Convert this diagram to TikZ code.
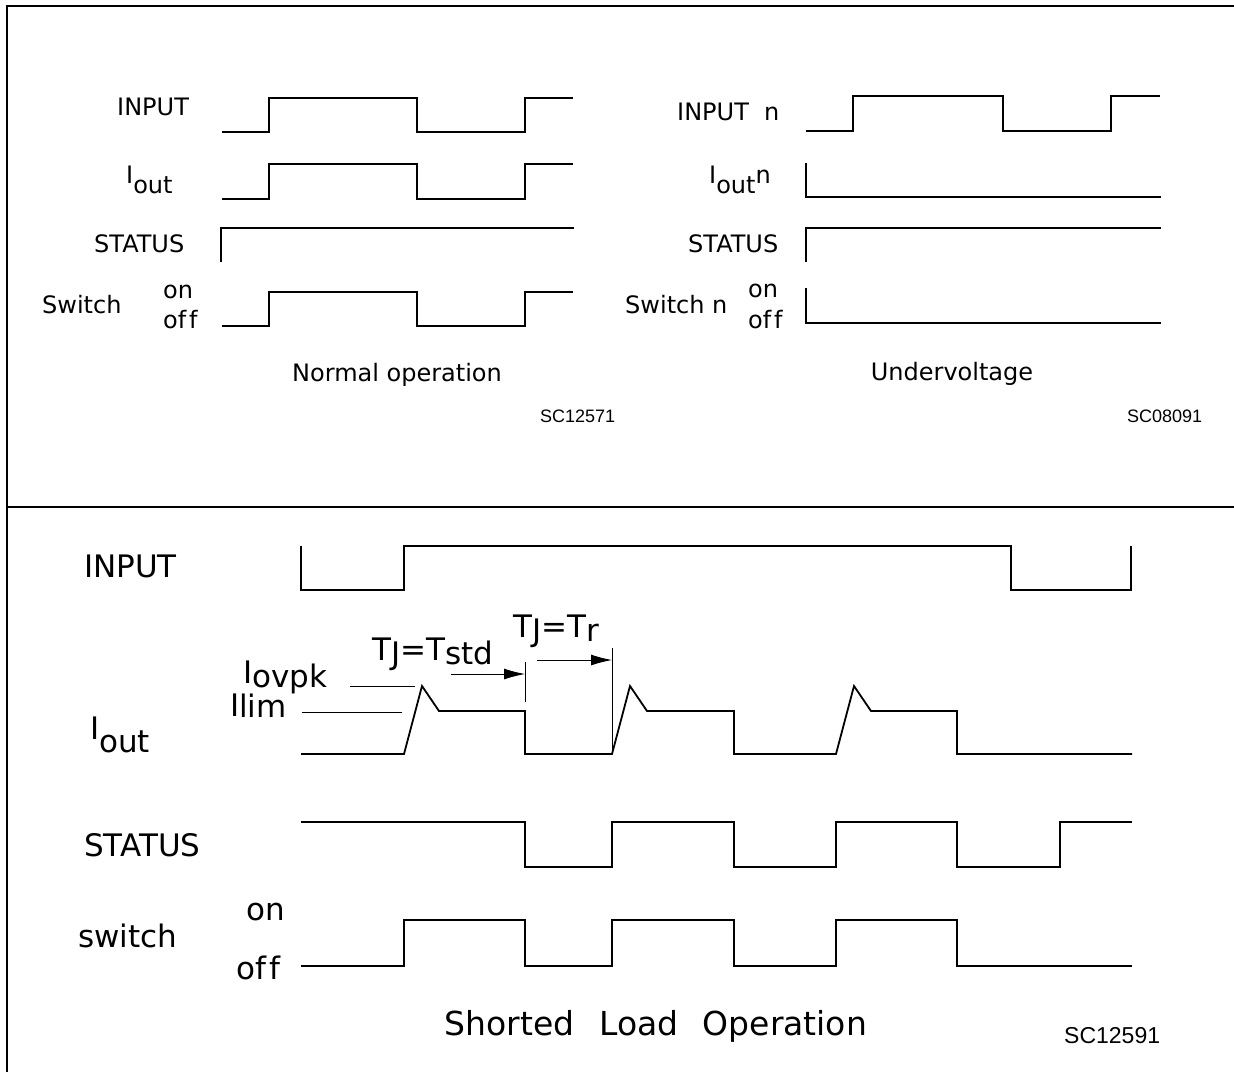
\documentclass[tikz,border=0pt]{standalone}
\usepackage{fontspec}
\setmainfont{DejaVu Sans}[Ligatures=NoCommon]
\newfontfamily\scfont{Liberation Sans}
\usetikzlibrary{arrows.meta, positioning}
\tikzstyle{wave} = [draw, line width=1.8pt, line join=miter]
\tikzstyle{guide} = [draw, line width=0.9pt]
\tikzstyle{frame} = [draw, line width=1.3pt]
\tikzstyle{lbl} = [inner sep=0pt, anchor=base west, font=\fontsize{24}{24}\selectfont]
\tikzstyle{lblb} = [lbl, font=\fontsize{31}{31}\selectfont]
\tikzstyle{code} = [inner sep=0pt, anchor=base west, font=\scfont\fontsize{18}{18}\selectfont]
\newcommand{\sublow}[2][0.42em]{\raisebox{-#1}{#2}}
\newcommand{\offtxt}{of\kern0.12em f}

\begin{document}
\begin{tikzpicture}[x=1pt,y=-1pt,>={Latex[length=21pt,width=11pt]}]
    \useasboundingbox (0,0) rectangle (1234,1072);
    \draw [frame] (1234,6) -- (7,6) -- (7,1072);
    \draw [frame] (7,507) -- (1234,507);

    \node [lbl] (in) at (117,115) {INPUT};
    \node [lbl] (iout) at (126,183) {I\sublow{out}};
    \node [lbl] (st) at (94,252) {STATUS};
    \node [lbl] (sw) at (42,313) {Switch};
    \node [lbl] (on) at (163,298) {on};
    \node [lbl] (off) at (163,328) {\offtxt};
    \node [lbl, anchor=base] (normal) at (397,381) {Normal operation};
    \node [code] (sca) at (540,422) {SC12571};
    \draw [wave] (222,132) -| (269,98) -| (417,132) -| (525,98) -- (573,98);
    \draw [wave] (222,199) -| (269,164) -| (417,199) -| (525,164) -- (573,164);
    \draw [wave] (221,262) |- (574,228);
    \draw [wave] (222,326) -| (269,292) -| (417,326) -| (525,292) -- (573,292);

    \node [lbl] (inn) at (677,120) {INPUT\ \ n};
    \node [lbl] (ioutn) at (709,183) {I\sublow{out}n};
    \node [lbl] (stn) at (688,252) {STATUS};
    \node [lbl] (swn) at (625,313) {Switch\ n};
    \node [lbl] (onn) at (748,297) {on};
    \node [lbl] (offn) at (748,328) {\offtxt};
    \node [lbl, anchor=base] (under) at (952,380) {Undervoltage};
    \node [code] (scb) at (1127,422) {SC08091};
    \draw [wave] (806,131) -| (853,96) -| (1003,131) -| (1111,96) -- (1160,96);
    \draw [wave] (806,163) |- (1161,197);
    \draw [wave] (806,262) |- (1161,228);
    \draw [wave] (806,288) |- (1161,323);

    \node [lblb] (input) at (84,577) {INPUT};
    \node [lblb] (out) at (90,739) {I\sublow{out}};
    \node [lblb] (status) at (84,856) {STATUS};
    \node [lblb] (switch) at (78,947) {switch};
    \node [lblb] (swon) at (246,920) {on};
    \node [lblb] (swoff) at (236,979) {\offtxt};
    \node [lblb] (ovpk) at (243,683) {I\sublow[0.16em]{ovpk}};
    \node [lblb] (lim) at (230,716) {I\sublow[0.05em]{lim}};
    \node [lblb] (tstd) at (372,660) {T\sublow[0.15em]{J}=T\sublow[0.16em]{std}};
    \node [lblb] (tr) at (513,637) {T\sublow[0.15em]{J}=T\sublow[0.16em]{r}};
    \node [lblb, anchor=base, font=\fontsize{33}{33}\selectfont] (shorted) at (656,1035) {Shorted\hspace{14pt} Load\hspace{14pt} Operation};
    \node [code, font=\scfont\fontsize{23}{23}\selectfont] (scc) at (1064,1043) {SC12591};

    \draw [wave] (301,546) -- (301,590) -| (404,546) -| (1011,590) -| (1131,546);
    \draw [wave] (301,754) -- (404,754) -- (422,686) -- (439,711) -- (525,711) -- (525,754)
        -- (612,754) -- (630,686) -- (647,711) -- (734,711) -- (734,754)
        -- (836,754) -- (854,686) -- (871,711) -- (957,711) -- (957,754) -- (1132,754);
    \draw [wave] (301,822) -| (525,867) -| (612,822) -| (734,867) -| (836,822) -| (957,867) -| (1060,822) -- (1132,822);
    \draw [wave] (301,966) -| (404,920) -| (525,966) -| (612,920) -| (734,966) -| (836,920) -| (957,966) -- (1132,966);

    \coordinate (tstda) at (451,674);
    \coordinate (tstdb) at (525,674);
    \coordinate (tra) at (537,660);
    \coordinate (trb) at (612,660);
    \draw [guide] (350,686) -- (415,686);
    \draw [guide] (302,712) -- (402,712);
    \draw [guide] (525,662) -- (525,702);
    \draw [guide] (612,648) -- (612,754);
    \draw [guide, ->] (tstda) -- (tstdb);
    \draw [guide, ->] (tra) -- (trb);
\end{tikzpicture}
\end{document}
